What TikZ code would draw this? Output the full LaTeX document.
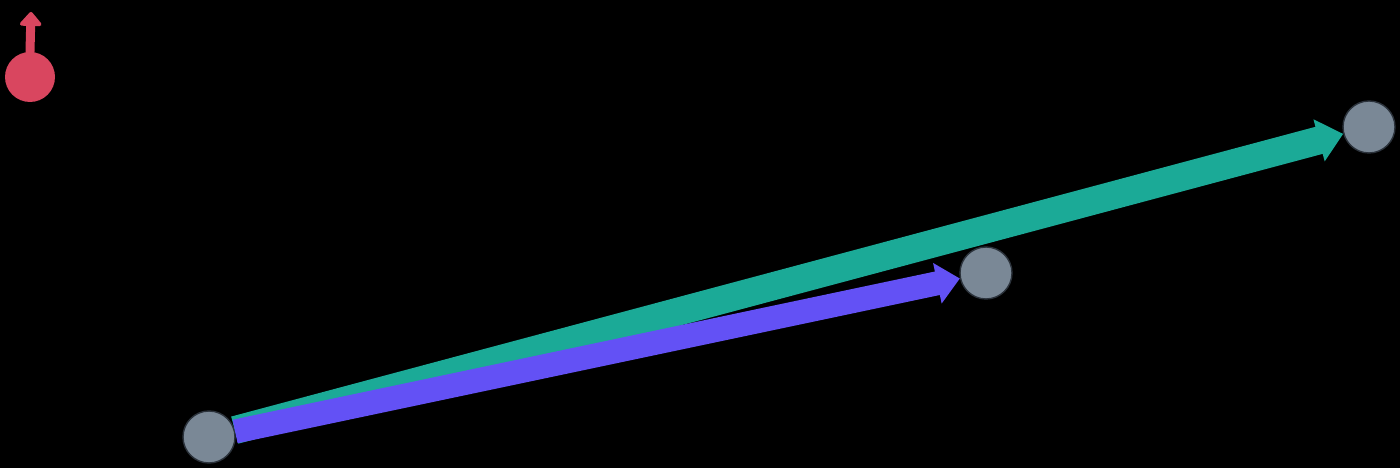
\documentclass[tikz,border=0pt]{standalone}
\usetikzlibrary{arrows.meta}

\definecolor{dotRed}{HTML}{D9465F}
\definecolor{dotGray}{HTML}{7A8896}
\definecolor{rimGray}{HTML}{2B323B}
\definecolor{vecTeal}{HTML}{1BAA97}
\definecolor{vecViolet}{HTML}{6351F5}

\begin{document}
\begin{tikzpicture}[
        pointDot/.style={circle, fill=dotGray, draw=rimGray, line width=0.8pt, minimum size=1.04cm, inner sep=0pt},
        agentDot/.style={circle, fill=dotRed, minimum size=1.0cm, inner sep=0pt},
        longVec/.style={vecTeal, line width=0.56cm, -{Triangle[length=0.5cm, width=0.84cm]}},
        shortVec/.style={vecViolet, line width=0.48cm, -{Triangle[length=0.46cm, width=0.8cm]}},
        pinVec/.style={dotRed, line width=0.18cm, line cap=round, -{Triangle[round, length=0.3cm, width=0.5cm]}}
    ]
        % Canvas
        \fill[black] (0,0) rectangle (28,9.36);
        \useasboundingbox (0,0) rectangle (28,9.36);

        % Red marker with its small pin
        \node[agentDot] (agent) at (0.6,7.82) {};
        \coordinate (pinTop) at (0.62,9.12);
        \draw[pinVec] (agent.north) -- (pinTop);

        % Gray points
        \node[pointDot] (startPt) at (4.18,0.62) {};
        \node[pointDot] (midPt) at (19.72,3.9) {};
        \node[pointDot] (farPt) at (27.38,6.82) {};

        % Vectors, teal first so the violet one lies on top
        \draw[longVec] (startPt) -- (farPt);
        \draw[shortVec] (startPt) -- (midPt);

    \end{tikzpicture}
\end{document}
